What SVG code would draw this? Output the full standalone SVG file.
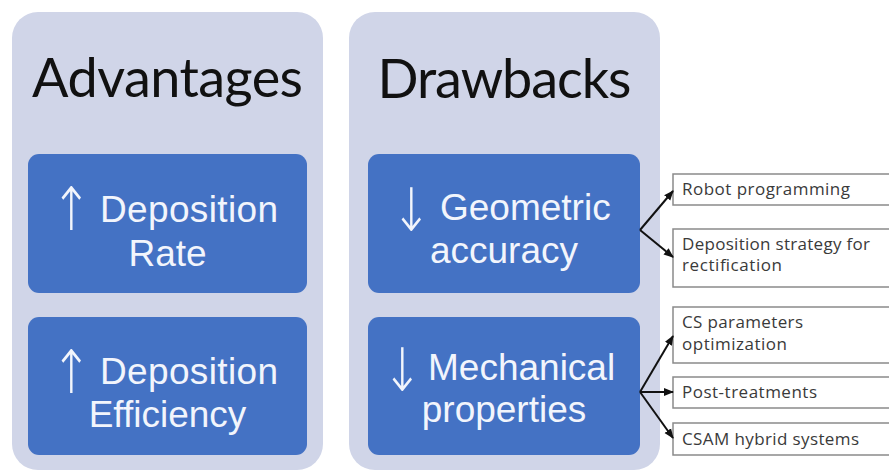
<svg xmlns="http://www.w3.org/2000/svg" width="889" height="470" viewBox="0 0 889 470">
<defs>
<marker id="ah" viewBox="0 0 10 10" refX="9" refY="5" markerWidth="5" markerHeight="5" orient="auto"><path d="M0,1 L10,5 L0,9 Z" fill="#111"/></marker>
<style>
.panel{fill:#d0d5e8}
.box{fill:#4472c4}
.title{font-family:Lato,"Open Sans",sans-serif;font-size:54px;fill:#111;text-anchor:middle}
.bt{font-family:"Liberation Sans",Arial,sans-serif;font-size:37px;fill:#f2f5fc;text-anchor:middle}
.bs{text-anchor:start}
.arr{font-family:"DejaVu Sans","Liberation Sans",sans-serif;font-weight:200;font-size:60px;fill:#f2f5fc;text-anchor:middle}
.tb{fill:#fff;stroke:#8a8a8a;stroke-width:1.5}
.st{font-family:"Open Sans",Lato,sans-serif;font-size:17px;fill:#3a3a3a}
.con{stroke:#111;stroke-width:2;fill:none;marker-end:url(#ah)}
</style>
</defs>
<rect width="889" height="470" fill="#fff"/>
<g id="advantages">
<rect class="panel" x="12" y="12" width="311" height="458" rx="26"/>
<text class="title" x="167.5" y="97" textLength="271">Advantages</text>
</g>
<g id="drawbacks">
<rect class="panel" x="349" y="12" width="311" height="458" rx="26"/>
<text class="title" x="504.5" y="98" textLength="254">Drawbacks</text>
</g>
<g id="deposition-rate">
<rect class="box" x="28" y="154" width="279" height="139" rx="11"/>
<text class="arr" transform="translate(71,230) scale(0.8,1)">↑</text>
<text class="bt bs" x="100" y="222" textLength="178">Deposition</text>
<text class="bt" x="167.5" y="266">Rate</text>
</g>
<g id="deposition-efficiency">
<rect class="box" x="28" y="317" width="279" height="138" rx="11"/>
<text class="arr" transform="translate(71,393) scale(0.8,1)">↑</text>
<text class="bt bs" x="100" y="384" textLength="178">Deposition</text>
<text class="bt" x="167.5" y="427">Efficiency</text>
</g>
<g id="geometric-accuracy">
<rect class="box" x="368" y="154" width="272" height="139" rx="11"/>
<text class="arr" transform="translate(411,231) scale(0.8,1)">↓</text>
<text class="bt bs" x="440" y="220">Geometric</text>
<text class="bt" x="504" y="263">accuracy</text>
</g>
<g id="mechanical-properties">
<rect class="box" x="368" y="317" width="272" height="138" rx="11"/>
<text class="arr" transform="translate(402,391) scale(0.8,1)">↓</text>
<text class="bt bs" x="428" y="380">Mechanical</text>
<text class="bt" x="504" y="422">properties</text>
</g>
<g id="robot-programming">
<rect class="tb" x="673" y="174" width="222" height="31"/>
<text class="st" x="682" y="195" textLength="168">Robot programming</text>
</g>
<g id="deposition-strategy">
<rect class="tb" x="673" y="229" width="222" height="58"/>
<text class="st" x="682" y="250" textLength="188">Deposition strategy for</text>
<text class="st" x="682" y="271" textLength="100">rectification</text>
</g>
<g id="cs-parameters">
<rect class="tb" x="673" y="307" width="222" height="56"/>
<text class="st" x="682" y="328" textLength="121">CS parameters</text>
<text class="st" x="682" y="350" textLength="105">optimization</text>
</g>
<g id="post-treatments">
<rect class="tb" x="673" y="377" width="222" height="31"/>
<text class="st" x="682" y="398" textLength="135">Post-treatments</text>
</g>
<g id="csam-hybrid">
<rect class="tb" x="673" y="423" width="222" height="32"/>
<text class="st" x="682" y="445" textLength="177">CSAM hybrid systems</text>
</g>
<g id="connectors">
<path class="con" d="M640,230 L673,191"/>
<path class="con" d="M640,230 L673,257"/>
<path class="con" d="M640,392 L673,336"/>
<path class="con" d="M640,392 L673,392"/>
<path class="con" d="M640,392 L673,438"/>
</g>
</svg>
